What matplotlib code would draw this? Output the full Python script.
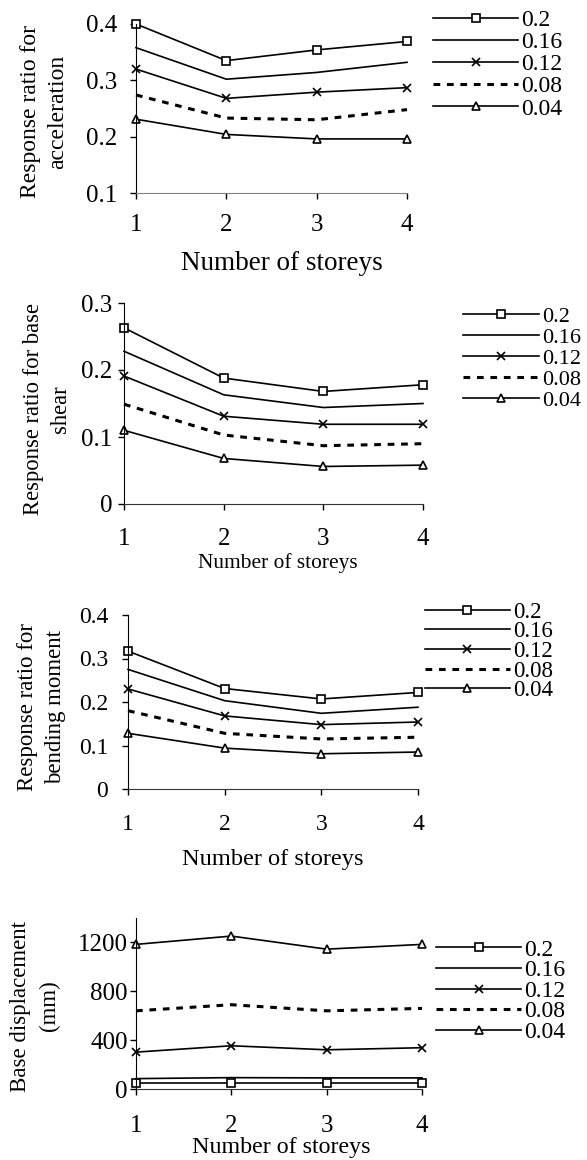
import matplotlib
matplotlib.use('Agg')
import matplotlib.pyplot as plt

plt.rcParams['font.family'] = ['Liberation Serif', 'DejaVu Serif']

W, H = 587, 1160

storeys = [1, 2, 3, 4]
series_labels = ['0.2', '0.16', '0.12', '0.08', '0.04']

accel = {
    '0.2':  [0.400, 0.335, 0.354, 0.369],
    '0.16': [0.358, 0.302, 0.314, 0.332],
    '0.12': [0.320, 0.268, 0.279, 0.287],
    '0.08': [0.274, 0.233, 0.230, 0.248],
    '0.04': [0.231, 0.204, 0.196, 0.196],
}
shear = {
    '0.2':  [0.263, 0.188, 0.168, 0.178],
    '0.16': [0.228, 0.163, 0.144, 0.150],
    '0.12': [0.191, 0.131, 0.119, 0.119],
    '0.08': [0.149, 0.103, 0.087, 0.090],
    '0.04': [0.110, 0.068, 0.056, 0.058],
}
moment = {
    '0.2':  [0.317, 0.231, 0.207, 0.222],
    '0.16': [0.275, 0.203, 0.174, 0.188],
    '0.12': [0.230, 0.168, 0.148, 0.154],
    '0.08': [0.180, 0.128, 0.115, 0.119],
    '0.04': [0.128, 0.094, 0.081, 0.085],
}
disp = {
    '0.2':  [47, 47, 47, 47],
    '0.16': [85, 93, 91, 91],
    '0.12': [302, 354, 321, 338],
    '0.08': [640, 690, 640, 660],
    '0.04': [1184, 1252, 1145, 1184],
}

STYLES = {
    '0.2':  dict(marker='s', ls='-', lw=1.2),
    '0.16': dict(marker=None, ls='-', lw=1.2),
    '0.12': dict(marker='x', ls='-', lw=1.2),
    '0.08': dict(marker=None, ls=(0, (2.2, 2.2)), lw=2.2),
    '0.04': dict(marker='^', ls='-', lw=1.2),
}

# panel boxes in pixels: left, right, top, bottom
panels = [
    dict(data=accel, box=(136, 407, 24, 193), ylim=(0.1, 0.4),
         yticks=[0.1, 0.2, 0.3, 0.4], ylabel='Response ratio for\nacceleration',
         ylab_xy=(44, 112), ylab_fs=17, ylab_ls=1.35, tick_fs=18, ypad=9.4, xpad=11,
         xlab_xy=(282, 263), xlab_fs=19.5, leg_xy=(433, 64.5), leg_fs=17, leg_sp=0.03,
         leg_hl=3.6, xspine='#808080'),
    dict(data=shear, box=(124, 423, 303, 504), ylim=(0, 0.3),
         yticks=[0, 0.1, 0.2, 0.3], ylabel='Response ratio for base\nshear',
         ylab_xy=(47, 409), ylab_fs=16.3, ylab_ls=1.33, tick_fs=18, ypad=4.3, xpad=13.3,
         xlab_xy=(278, 563), xlab_fs=15.4, leg_xy=(463, 358.5), leg_fs=16, leg_sp=0.02,
         leg_hl=3.4, xspine='#333333'),
    dict(data=moment, box=(128, 418, 615, 789), ylim=(0, 0.4),
         yticks=[0, 0.1, 0.2, 0.3, 0.4], ylabel='Response ratio for\nbending moment',
         ylab_xy=(41.5, 707), ylab_fs=16.5, ylab_ls=1.43, tick_fs=17, ypad=10, xpad=13.6,
         xlab_xy=(273, 860), xlab_fs=17.6, leg_xy=(425, 651.5), leg_fs=16.5, leg_sp=-0.06,
         leg_hl=3.7, xspine='#333333'),
    dict(data=disp, box=(136, 422, 918, 1089), ylim=(0, 1400),
         yticks=[0, 400, 800, 1200], ylabel='Base displacement\n(mm)',
         ylab_xy=(35, 1006), ylab_fs=16.5, ylab_ls=1.48, tick_fs=18, ypad=1.5, xpad=14.3,
         xlab_xy=(281, 1147), xlab_fs=17.3, leg_xy=(436, 991), leg_fs=17, leg_sp=-0.04,
         leg_hl=3.6, xspine='#333333'),
]


def fmt_tick(v):
    if v == 0:
        return '0'
    if float(v).is_integer():
        return str(int(v))
    return f'{v:g}'


def draw_panel(fig, p):
    l, r, t, b = p['box']
    ax = fig.add_axes([l / W, 1 - b / H, (r - l) / W, (b - t) / H])
    handles = []
    for lab in series_labels:
        st = STYLES[lab]
        h, = ax.plot(storeys, p['data'][lab], color='black', ls=st['ls'], lw=st['lw'],
                     marker=st['marker'], ms=6, mfc='white', mec='black', mew=1.2,
                     clip_on=False, label=lab)
        handles.append(h)
    ax.set_xlim(1, 4)
    ax.set_ylim(*p['ylim'])
    ax.set_xticks(storeys)
    ax.set_xticklabels([str(s) for s in storeys])
    ax.set_yticks(p['yticks'])
    ax.set_yticklabels([fmt_tick(v) for v in p['yticks']])
    for s in ['top', 'right']:
        ax.spines[s].set_visible(False)
    ax.spines['left'].set_color('black')
    ax.spines['bottom'].set_color(p['xspine'])
    ax.tick_params(axis='both', direction='out', length=4.3, width=1, labelsize=p['tick_fs'])
    ax.tick_params(axis='y', pad=p['ypad'])
    ax.tick_params(axis='x', pad=p['xpad'])
    ax.patch.set_alpha(0)

    fig.text(p['ylab_xy'][0] / W, 1 - p['ylab_xy'][1] / H, p['ylabel'], rotation=90,
             ha='center', va='center', multialignment='center', fontsize=p['ylab_fs'],
             linespacing=p['ylab_ls'])
    fig.text(p['xlab_xy'][0] / W, 1 - p['xlab_xy'][1] / H, 'Number of storeys',
             ha='center', va='center', fontsize=p['xlab_fs'])
    fig.legend(handles=handles, labels=series_labels, loc='center left',
               bbox_to_anchor=(p['leg_xy'][0] / W, 1 - p['leg_xy'][1] / H),
               frameon=False, borderpad=0, borderaxespad=0, fontsize=p['leg_fs'],
               handlelength=p['leg_hl'], handletextpad=0.15, labelspacing=p['leg_sp'],
               numpoints=1)


fig = plt.figure(figsize=(W / 100, H / 100), dpi=100)
for p in panels:
    draw_panel(fig, p)
fig.savefig('out.png', dpi=100)
